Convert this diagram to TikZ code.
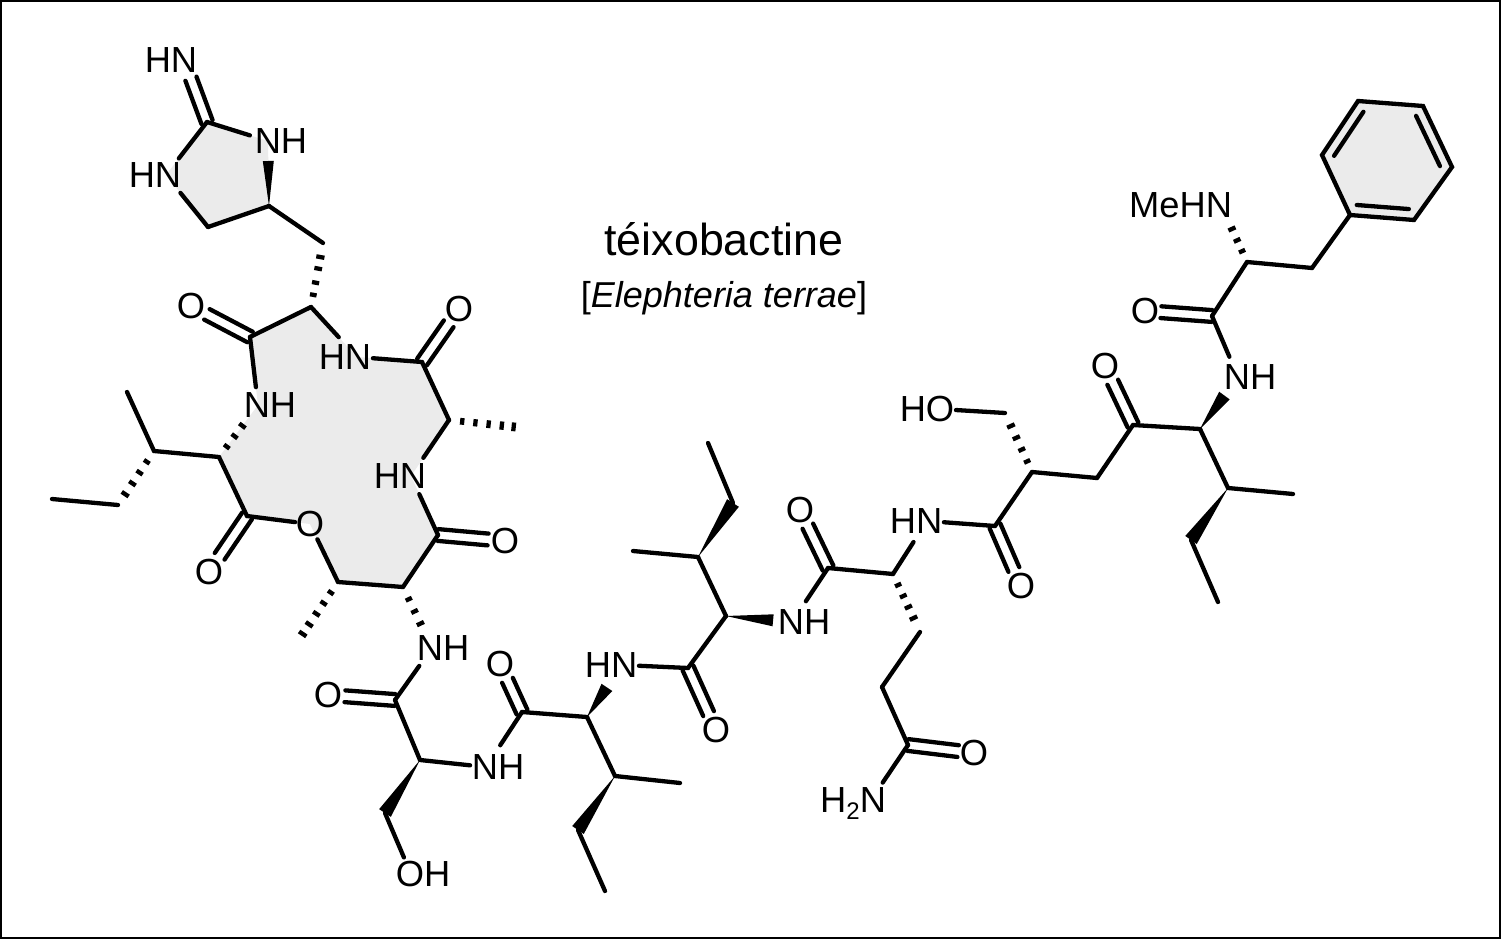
\documentclass[tikz,border=0pt]{standalone}
\usepackage{fontspec}
\setmainfont{Liberation Sans}
\usetikzlibrary{calc}
\definecolor{ringgray}{HTML}{EBEBEB}
\tikzset{
  bond/.style={line width=4.3pt,line cap=round,line join=round,black},
  hashbar/.style={line width=4.3pt,line cap=butt,black},
  lab/.style={inner sep=0pt,outer sep=0pt,text height=25.8pt,text depth=0pt,font=\fontsize{36.3}{36.3}\selectfont},
  ringfill/.style={fill=ringgray,draw=none}
}
\newcommand\bnd[4]{\draw[bond,shorten <=#3pt,shorten >=#4pt] (#1) -- (#2);}
\newcommand\dbl[4]{%
  \draw[bond,shorten <=#3pt,shorten >=#4pt] ($(#1)!5.9pt!90:(#2)$) -- ($(#2)!5.9pt!-90:(#1)$);
  \draw[bond,shorten <=#3pt,shorten >=#4pt] ($(#1)!5.9pt!-90:(#2)$) -- ($(#2)!5.9pt!90:(#1)$);}
\newcommand\inn[2]{\draw[bond,shorten <=6pt,shorten >=6pt] ($(#1)!10.5pt!-90:(#2)$) -- ($(#2)!10.5pt!90:(#1)$);}
\newcommand\wdg[4]{%
  \coordinate (we) at ($(#2)!#3pt!(#1)$);
  \fill[black] (#1) -- ($(we)!#4pt!90:(#1)$) -- ($(we)!#4pt!-90:(#1)$) -- cycle;}
\newcommand\hashb[3]{\foreach \hf in {#3}{%
  \pgfmathsetmacro\hw{3.1+1.3*\hf}%
  \coordinate (hp) at ($(#1)!\hf!(#2)$);
  \draw[hashbar] ($(hp)!\hw pt!90:(#2)$) -- ($(hp)!\hw pt!-90:(#2)$);}}
\begin{document}
\begin{tikzpicture}[x=1pt,y=-1pt]
\useasboundingbox (0,0) rectangle (1501,939);
\fill[white] (0,0) rectangle (1501,939);
\draw[line width=2pt,black] (1,1) rectangle (1500,938);
% atoms
\foreach \nm/\xx/\yy in {
 c1/207/122,n1/184/60,n2/268/141,n3/166/175,c2/208/227,c3/269/206,c4/323/243,c5/311/307,
 c6/250/337,o1/191/306,n4/357/357,n5/258/405,c7/422/362,o2/459/309,c8/449/420,c9/515/427,
 n6/411/476,c10/438/535,o3/505/541,c11/403/587,c12/338/582,o4/310/524,c13/247/516,o5/209/572,
 c14/219/457,c15/154/451,c16/127/392,c17/118/505,c18/52/499,c19/302/635,n7/432/648,
 c20/395/700,o6/328/695,c21/420/760,n8/486/767,c22/385/813,o7/411/874,c23/522/712,o8/500/664,
 c24/587/717,n9/622/665,c25/688/668,o9/716/730,c26/726/616,c27/615/776,c28/680/783,c29/578/830,c30/605/891,
 c31/698/557,c32/633/551,c33/733/503,c34/708/443,n10/792/622,c35/828/568,o10/800/510,c36/893/574,
 n11/927/521,c37/920/632,c38/882/687,c39/908/745,o11/974/753,n12/871/800,c40/995/526,o12/1021/586,
 c41/1032/472,c42/1097/478,c43/1133/425,o13/1105/366,c44/1200/429,n13/1238/377,c45/1228/488,c46/1293/494,
 c47/1191/540,c48/1218/602,c49/1005/413,o14/939/409,c50/1212/316,o15/1145/311,c51/1247/262,n14/1221/205,
 c52/1312/268,r1/1350/215,r2/1322/155,r3/1358/101,r4/1423/106,r5/1452/167,r6/1414/220}
 {\coordinate (\nm) at (\xx,\yy);}
% grey rings
\fill[ringfill] (c1) -- (n2) -- (c3) -- (c2) -- (n3) -- cycle;
\fill[ringfill] (c5) -- (n4) -- (c7) -- (c8) -- (n6) -- (c10) -- (c11) -- (c12) -- (o4) -- (c13) -- (c14) -- (n5) -- (c6) -- cycle;
\fill[ringfill] (r1) -- (r2) -- (r3) -- (r4) -- (r5) -- (r6) -- cycle;
% double bonds
\dbl{c1}{n1}{0}{20}
\dbl{c6}{o1}{0}{18}
\dbl{c7}{o2}{0}{18}
\dbl{c10}{o3}{0}{17}
\dbl{c13}{o5}{0}{19}
\dbl{c20}{o6}{0}{17}
\dbl{c23}{o8}{0}{18}
\dbl{c25}{o9}{0}{18}
\dbl{c35}{o10}{0}{18}
\dbl{c39}{o11}{0}{16}
\dbl{c40}{o12}{0}{18}
\dbl{c43}{o13}{0}{18}
\dbl{c50}{o15}{0}{16}
% single bonds
\bnd{c1}{n2}{0}{19}
\bnd{c1}{n3}{0}{21}
\bnd{n3}{c2}{23}{0}
\bnd{c2}{c3}{0}{0}
\bnd{c3}{c4}{0}{0}
\bnd{c5}{c6}{0}{0}
\bnd{c5}{n4}{0}{27}
\bnd{c6}{n5}{0}{18}
\bnd{n4}{c7}{16}{0}
\bnd{c7}{c8}{0}{0}
\bnd{c8}{n6}{0}{22}
\bnd{n6}{c10}{20}{0}
\bnd{c10}{c11}{0}{0}
\bnd{c11}{c12}{0}{0}
\bnd{c12}{o4}{0}{17}
\bnd{o4}{c13}{15}{0}
\bnd{c13}{c14}{0}{0}
\bnd{c14}{c15}{0}{0}
\bnd{c15}{c16}{0}{0}
\bnd{c17}{c18}{0}{0}
\bnd{n7}{c20}{22}{0}
\bnd{c20}{c21}{0}{0}
\bnd{c21}{n8}{0}{16}
\bnd{c22}{o7}{0}{18}
\bnd{n8}{c23}{26}{0}
\bnd{c23}{c24}{0}{0}
\bnd{n9}{c25}{17}{0}
\bnd{c25}{c26}{0}{0}
\bnd{c24}{c27}{0}{0}
\bnd{c27}{c28}{0}{0}
\bnd{c29}{c30}{0}{0}
\bnd{c26}{c31}{0}{0}
\bnd{c31}{c32}{0}{0}
\bnd{c33}{c34}{0}{0}
\bnd{n10}{c35}{25}{0}
\bnd{c35}{c36}{0}{0}
\bnd{c36}{n11}{0}{25}
\bnd{c37}{c38}{0}{0}
\bnd{c38}{c39}{0}{0}
\bnd{c39}{n12}{0}{21}
\bnd{n11}{c40}{17}{0}
\bnd{c40}{c41}{0}{0}
\bnd{c41}{c42}{0}{0}
\bnd{c42}{c43}{0}{0}
\bnd{c43}{c44}{0}{0}
\bnd{c44}{c45}{0}{0}
\bnd{c45}{c46}{0}{0}
\bnd{c47}{c48}{0}{0}
\bnd{c49}{o14}{0}{17}
\bnd{n13}{c50}{22}{0}
\bnd{c50}{c51}{0}{0}
\bnd{c51}{c52}{0}{0}
\bnd{c52}{r1}{0}{0}
\draw[bond,line join=miter] (r1) -- (r2) -- (r3) -- (r4) -- (r5) -- (r6) -- cycle;
\inn{r2}{r3}
\inn{r4}{r5}
\inn{r6}{r1}
% wedges
\wdg{c3}{n2}{20}{5.5}
\wdg{c21}{c22}{0}{7}
\wdg{c24}{n9}{27}{6.5}
\wdg{c27}{c29}{0}{7}
\wdg{c31}{c33}{0}{7}
\wdg{c26}{n10}{19}{6}
\wdg{c44}{n13}{23}{6.5}
\wdg{c45}{c47}{0}{7}
% hashes
\hashb{c5}{c4}{.19,.38,.6,.78}
\hashb{c8}{c9}{.2,.4,.6,.8,.98}
\hashb{c14}{n5}{.2,.4,.6}
\hashb{c15}{c17}{.2,.4,.6,.8}
\hashb{c12}{c19}{.2,.4,.6,.8,.98}
\hashb{c11}{n7}{.2,.4,.6}
\hashb{c36}{c37}{.19,.38,.57,.76}
\hashb{c41}{c49}{.18,.38,.58,.78}
\hashb{c51}{n14}{.19,.38,.58}
% labels
\node[lab] (l1) at (171,60) {HN};
\node[lab] (l2) at (281,141) {NH};
\node[lab] (l3) at (155,175) {HN};
\node[lab] (l4) at (191,306) {O};
\node[lab] (l5) at (459,309) {O};
\node[lab] (l6) at (345,357) {HN};
\node[lab] (l7) at (270,405) {NH};
\node[lab] (l8) at (400,476) {HN};
\node[lab] (l9) at (505,541) {O};
\node[lab] (l10) at (310,524) {O};
\node[lab] (l11) at (209,572) {O};
\node[lab] (l12) at (443,648) {NH};
\node[lab] (l13) at (328,695) {O};
\node[lab] (l14) at (498,767) {NH};
\node[lab] (l15) at (423,874) {OH};
\node[lab] (l16) at (500,664) {O};
\node[lab] (l17) at (611,665) {HN};
\node[lab] (l18) at (716,730) {O};
\node[lab] (l19) at (804,622) {NH};
\node[lab] (l20) at (800,510) {O};
\node[lab] (l21) at (916,521) {HN};
\node[lab] (l22) at (974,753) {O};
\node[lab,anchor=east] (l23) at (886,800) {H\raisebox{-7pt}{\fontsize{24}{24}\selectfont 2}N};
\node[lab] (l24) at (1021,586) {O};
\node[lab] (l25) at (927,409) {HO};
\node[lab] (l26) at (1105,366) {O};
\node[lab] (l27) at (1250,377) {NH};
\node[lab] (l28) at (1145,311) {O};
\node[lab,anchor=east] (l29) at (1232,205) {MeHN};
% title
\node[inner sep=0pt,anchor=base,font=\fontsize{44.8}{44.8}\selectfont] (title) at (724,255) {téixobactine};
\node[inner sep=0pt,anchor=base,font=\fontsize{36}{36}\selectfont] (source) at (724,307) {[\textit{Elephteria terrae}]};
\end{tikzpicture}
\end{document}
